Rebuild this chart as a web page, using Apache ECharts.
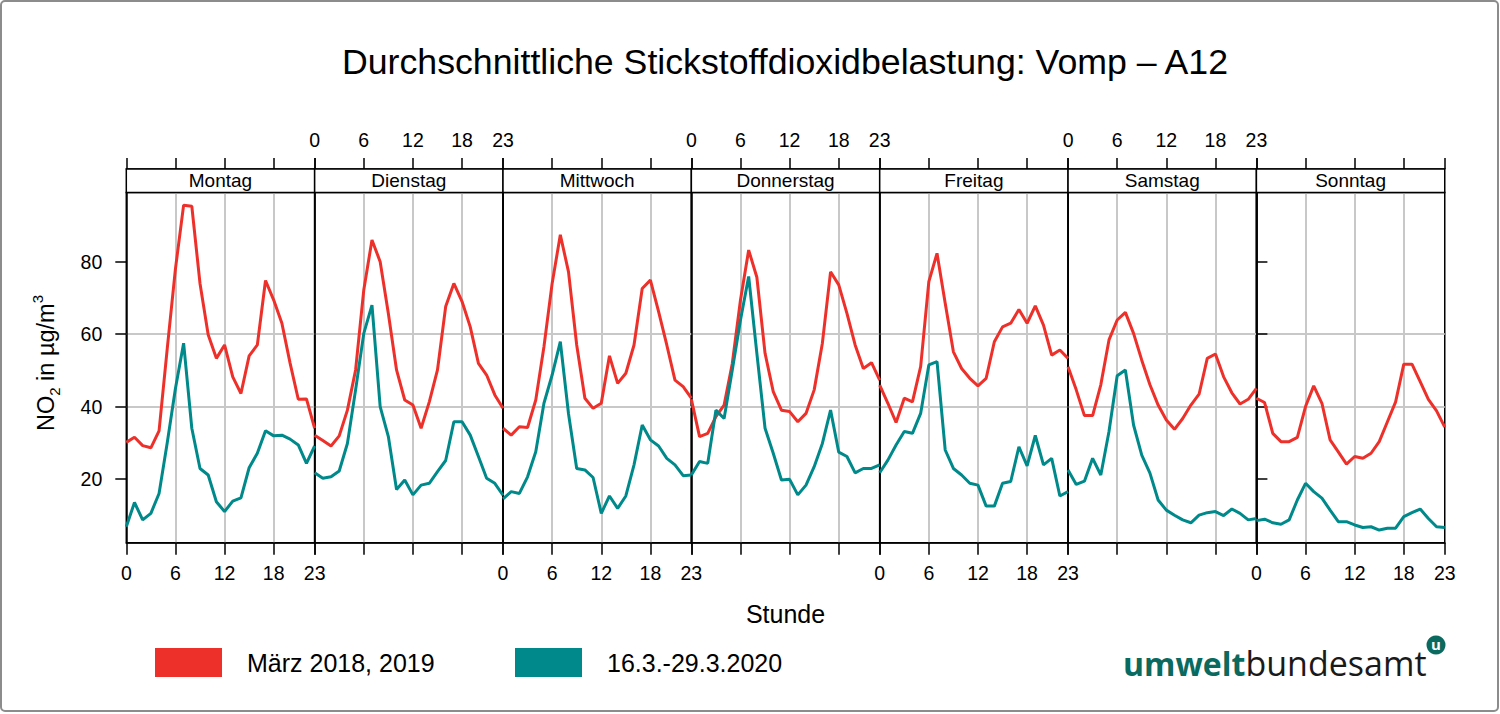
<!DOCTYPE html>
<html><head><meta charset="utf-8">
<script src="https://cdn.jsdelivr.net/npm/echarts@6/dist/echarts.min.js"></script>
<style>html,body{margin:0;padding:0;background:#fff}#c{width:1500px;height:714px}</style>
</head><body><div id="c"></div>
<script>
// ---- data ----
const days = ['Montag','Dienstag','Mittwoch','Donnerstag','Freitag','Samstag','Sonntag'];
const hours = [0,1,2,3,4,5,6,7,8,9,10,11,12,13,14,15,16,17,18,19,20,21,22,23];
const hourTicks = [0,6,12,18,23];
const yTicks = [20,40,60,80];
const nameRef = 'März 2018, 2019';
const nameCur = '16.3.-29.3.2020';

// März 2018, 2019
const ref_Mo = [30.1,31.5,29.2,28.6,33.3,56,78,95.6,95.3,74,59.8,53.3,57,48.2,43.6,54,57,74.8,69.4,63,52,42,42.1,34];
const ref_Di = [32.1,30.6,29.1,31.9,39,50.1,72.2,86,80,65.7,50.1,41.8,40.4,34,41.3,50.1,67.6,74,69,62,51.9,48.7,43.2,39.5];
const ref_Mi = [34,32.1,34.4,34.2,41.8,56.5,74,87.4,77.2,57,42.3,39.5,40.9,54,46.4,49.2,57,72.6,74.9,66.2,57,47.3,45.5,42.3];
const ref_Do = [42,31.7,32.6,37.2,40.4,51.9,69.4,83.2,75.7,54.7,44.1,39,38.6,35.8,38.1,44.6,57.5,77.2,73.6,65.7,57,50.5,52.1,47.3];
const ref_Fr = [45.9,40.9,35.6,42.3,41.3,51,74.5,82.3,68.5,55.1,50.5,47.8,45.7,47.8,57.9,62,63,66.8,63,67.8,62.5,54.2,55.6,53.3];
const ref_Sa = [51,44.6,37.5,37.5,46,58.4,63.9,66,60.2,52.8,46,40.4,36.3,33.7,36.7,40.4,43.4,53.3,54.5,48.2,43.8,40.7,42,45];
const ref_So = [42.3,41.1,32.6,30.3,30.3,31.5,40,45.7,40.9,30.8,27.5,24.1,26.2,25.7,27.1,30.3,35.8,41.3,51.7,51.7,46.9,42,38.8,34.3];

// 16.3.-29.3.2020
const cur_Mo = [6.8,13.5,8.7,10.5,16,30,45,57.5,34,22.9,21.1,13.7,11,13.9,14.8,23.1,27.1,33.3,31.9,32.1,31,29.4,24.3,29.1];
const cur_Di = [21.7,20.2,20.6,22.2,29.8,44.6,60.2,68,40,31.7,17.1,19.7,15.6,18.3,18.8,22,25.1,35.8,35.8,32.1,26.2,20.2,18.8,15.5];
const cur_Mi = [14.5,16.5,16,20.6,27.5,40.9,48.7,57.9,38,22.9,22.5,20.4,10.5,15.3,11.9,15.3,23.9,34.9,30.8,29.1,25.7,23.9,20.9,21.1];
const cur_Do = [21.1,24.8,24.3,39,36.7,50.1,63.9,75.9,54.7,34,27.1,19.7,19.9,15.6,18.3,23.4,29.8,39,27.4,26.2,21.7,22.9,22.9,23.9];
const cur_Fr = [21.7,25.2,29.4,33.1,32.6,38.1,51.5,52.4,28,22.9,21.1,18.8,18.3,12.5,12.5,18.8,19.3,28.9,23.6,32,23.9,25.7,15.3,16.5];
const cur_Sa = [22.5,18.5,19.4,25.7,21.1,33.1,48.5,50.1,34.9,26.6,21.6,14.2,11.4,10,8.7,7.9,10,10.7,11,9.9,11.7,10.5,8.7,9.1];
const cur_So = [8.5,8.9,7.9,7.5,8.7,14.2,18.8,16.5,14.7,11.4,8.2,8.2,7.3,6.6,6.8,5.9,6.4,6.4,9.6,10.7,11.7,9.1,6.8,6.6];

const refByDay = [ref_Mo, ref_Di, ref_Mi, ref_Do, ref_Fr, ref_Sa, ref_So];
const curByDay = [cur_Mo, cur_Di, cur_Mi, cur_Do, cur_Fr, cur_Sa, cur_So];

// ---- layout / style ----
const RED = '#ee302a', TEAL = '#00898a', GRIDC = '#c8c8c8';
const FONT = '"Liberation Sans", Arial, Helvetica, sans-serif';
const L = 126.3, W = 188.35, T = 192.5, H = 350.2, STRIP = 23.5;
const YMIN = 2.4, YMAX = 99.1;

const grids = [], xAxes = [], yAxes = [], series = [], graphics = [];
days.forEach((d, i) => {
  grids.push({left: L + i * W, top: T, width: W, height: H, show: true,
    borderColor: '#000', borderWidth: 1.5, backgroundColor: 'transparent', containLabel: false});
  // bottom axis
  xAxes.push({type: 'value', gridIndex: i, position: 'bottom', min: 0, max: 23,
    name: i === 3 ? 'Stunde' : '', nameLocation: 'middle', nameGap: 59,
    nameTextStyle: {fontSize: 25, color: '#000', fontFamily: FONT},
    axisLine: {show: true, lineStyle: {color: '#000', width: 1.5}},
    axisTick: {show: true, inside: false, length: 12, customValues: hourTicks, lineStyle: {color: '#000', width: 1.5}},
    axisLabel: {show: i % 2 === 0, customValues: hourTicks, margin: 20, fontSize: 19.5, color: '#000', fontFamily: FONT},
    splitLine: {show: true, showMinLine: false, showMaxLine: false, lineStyle: {color: GRIDC, width: 2}}
  });
  // top axis (above strip)
  xAxes.push({type: 'value', gridIndex: i, position: 'top', offset: STRIP, min: 0, max: 23,
    axisLine: {show: true, lineStyle: {color: '#000', width: 1.5}},
    axisTick: {show: true, inside: false, length: 11, customValues: hourTicks, lineStyle: {color: '#000', width: 1.5}},
    axisLabel: {show: i % 2 === 1, customValues: hourTicks, margin: 19, fontSize: 19.5, color: '#000', fontFamily: FONT},
    splitLine: {show: false}
  });
  yAxes.push({type: 'value', gridIndex: i, position: 'left', min: YMIN, max: YMAX,
    axisLine: {show: true, lineStyle: {color: '#000', width: 1.5}},
    axisTick: {show: i === 0, inside: false, length: 11, customValues: yTicks, lineStyle: {color: '#000', width: 1.5}},
    axisLabel: {show: i === 0, customValues: yTicks, margin: 24, fontSize: 19.5, color: '#000', fontFamily: FONT},
    splitLine: {show: true, showMinLine: false, showMaxLine: false, lineStyle: {color: GRIDC, width: 2}}
  });
  series.push({type: 'line', name: nameRef, xAxisIndex: 2 * i, yAxisIndex: i,
    data: hours.map((h, k) => [h, refByDay[i][k]]), color: RED,
    showSymbol: false, symbol: 'none', lineStyle: {color: RED, width: 3}, animation: false, z: 3});
  series.push({type: 'line', name: nameCur, xAxisIndex: 2 * i, yAxisIndex: i,
    data: hours.map((h, k) => [h, curByDay[i][k]]), color: TEAL,
    showSymbol: false, symbol: 'none', lineStyle: {color: TEAL, width: 3}, animation: false, z: 4});
  // strip
  graphics.push({type: 'rect', shape: {x: L + i * W, y: T - STRIP, width: W, height: STRIP},
    style: {fill: '#fff', stroke: '#000', lineWidth: 1.5}, z: 1});
  graphics.push({type: 'text', x: L + i * W + W / 2, y: T - STRIP / 2 - 0.5,
    style: {text: d, fontSize: 19, fill: '#000', fontFamily: FONT, textAlign: 'center', textVerticalAlign: 'middle'}, z: 2});
});
// right-side ticks
yAxes.push({type: 'value', gridIndex: 6, position: 'right', min: YMIN, max: YMAX,
  axisLine: {show: true, lineStyle: {color: '#000', width: 1.5}},
  axisTick: {show: true, inside: false, length: 11, customValues: yTicks, lineStyle: {color: '#000', width: 1.5}},
  axisLabel: {show: false, customValues: yTicks}, splitLine: {show: false}});

// title
graphics.push({type: 'text', x: 785, y: 62,
  style: {text: 'Durchschnittliche Stickstoffdioxidbelastung: Vomp – A12', fontSize: 35.7, fill: '#000',
    fontFamily: FONT, textAlign: 'center', textVerticalAlign: 'middle'}});
// y axis title
graphics.push({type: 'text', x: 46, y: 363, rotation: Math.PI / 2,
  style: {text: '{n|NO}{s|2}{n| in µg/m}{p|3}', textAlign: 'center', textVerticalAlign: 'middle', fill: '#000',
    fontFamily: FONT,
    rich: {n: {fontSize: 23.5, lineHeight: 32, verticalAlign: 'middle', fontFamily: FONT, fill: '#000'},
           s: {fontSize: 15, lineHeight: 15, verticalAlign: 'bottom', fontFamily: FONT, fill: '#000'},
           p: {fontSize: 15, lineHeight: 15, verticalAlign: 'top', fontFamily: FONT, fill: '#000'}}}});
// logo
graphics.push({type: 'text', x: 1123, y: 663,
  style: {text: '{a|umwelt}{b|bundesamt}', textAlign: 'left', textVerticalAlign: 'middle',
    rich: {a: {fontSize: 32, fontWeight: 'bold', fill: '#0a6a60', fontFamily: '"Open Sans", "Noto Sans", sans-serif'},
           b: {fontSize: 34, fontWeight: 'normal', fill: '#1a1a1a', fontFamily: '"Open Sans", "Noto Sans", sans-serif'}}}});
graphics.push({type: 'circle', shape: {cx: 1436, cy: 645, r: 9.5}, style: {fill: '#0a6a60'}});
graphics.push({type: 'text', x: 1436, y: 644, style: {text: 'u', fontSize: 15, fontWeight: 'bold', fill: '#fff',
  fontFamily: '"Open Sans", sans-serif', textAlign: 'center', textVerticalAlign: 'middle'}});
// outer frame
graphics.push({type: 'rect', shape: {x: 1, y: 1, width: 1497, height: 710, r: 4},
  style: {fill: 'none', stroke: '#8c8c8c', lineWidth: 2}});

const legendCommon = {icon: 'rect', itemWidth: 67, itemHeight: 29, selectedMode: false, orient: 'horizontal',
  textStyle: {fontSize: 25, color: '#000', fontFamily: FONT, padding: [0, 0, 0, 20]}};

const chart = echarts.init(document.getElementById('c'), null, {renderer: 'svg', width: 1500, height: 714});
chart.setOption({
  animation: false,
  backgroundColor: '#fff',
  grid: grids, xAxis: xAxes, yAxis: yAxes, series: series,
  legend: [Object.assign({data: [nameRef], left: 150, top: 643}, legendCommon),
           Object.assign({data: [nameCur], left: 510, top: 643}, legendCommon)],
  graphic: graphics
});
</script></body></html>
